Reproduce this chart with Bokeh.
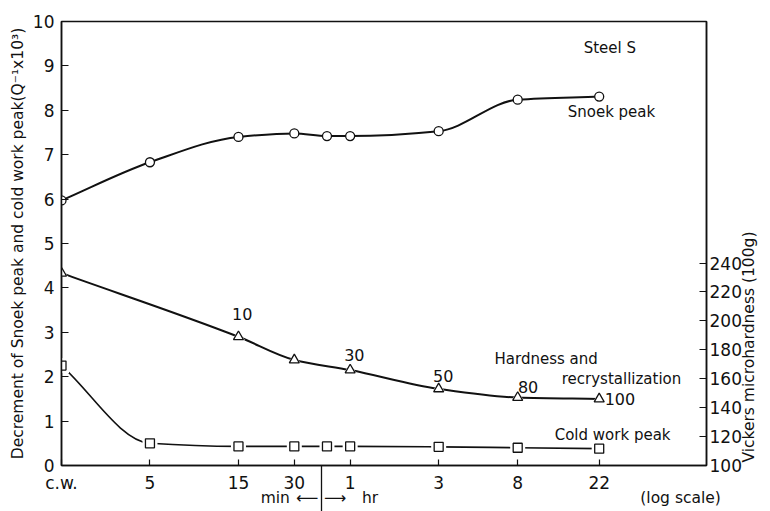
import numpy as np
from math import pi
from bokeh.plotting import figure
from bokeh.models import (Range1d, LinearAxis, LogAxis, FixedTicker, Label,
                          ColumnDataSource)
from bokeh.embed import file_html
from bokeh.resources import INLINE

# ---------------- data ----------------
CW = 1.668  # position used for the cold-worked state on the log time axis (min)
time_min = [CW, 5, 15, 30, 45, 60, 180, 480, 1320]
snoek_peak = [5.97, 6.83, 7.40, 7.48, 7.42, 7.42, 7.53, 8.24, 8.31]
cold_work_peak = [2.25, 0.50, 0.43, 0.43, 0.43, 0.43, 0.42, 0.40, 0.38]

hard_time_min = [CW, 15, 30, 60, 180, 480, 1320]
hardness_hv = [233, 189, 173, 166, 153, 147, 146]

recryst_pct = ["10", "30", "50", "80", "100"]

x_ticks = [CW, 5, 15, 30, 60, 180, 480, 1320]
x_tick_labels = ["c.w.", "5", "15", "30", "1", "3", "8", "22"]
left_ticks = list(range(0, 11))
right_ticks = [100, 120, 140, 160, 180, 200, 220, 240]

SPLIT_MIN = 41.8  # min | hr divider on the time axis
# secondary caption row under the time axis: (position in min, text)
caption_pos = [23.7, 35.2, 49.8, 76.8, 3625]
caption_txt = ["min", "\u27f5", "\u27f6", "hr", "(log scale)"]

FONT = "DejaVu Sans"
INK = "#111111"

p = figure(width=770, height=511, x_axis_type="log",
           x_range=Range1d(CW, 5000), y_range=Range1d(0, 10),
           output_backend="svg", toolbar_location=None,
           min_border_left=61, min_border_right=63,
           min_border_top=21, min_border_bottom=46)
p.extra_y_ranges = {"hv": Range1d(100, 407)}
p.grid.visible = False
p.outline_line_color = INK
p.outline_line_width = 1.5
p.background_fill_color = "white"
p.border_fill_color = "white"

# ---------- axes ----------
xa = p.xaxis[0]
xa.ticker = FixedTicker(ticks=x_ticks, minor_ticks=[SPLIT_MIN])
xa.major_label_overrides = {t: l for t, l in zip(x_ticks, x_tick_labels)}
xa.major_tick_in = 6
xa.major_tick_out = 0
xa.minor_tick_in = 0
xa.minor_tick_out = 46
xa.minor_tick_line_color = INK
xa.minor_tick_line_width = 1.3
xa.major_label_standoff = -39
xa.axis_line_width = 1.5

xa2 = LogAxis(ticker=FixedTicker(ticks=caption_pos),
              major_label_overrides={t: l for t, l in zip(caption_pos, caption_txt)})
xa2.minor_tick_line_color = None
xa2.major_tick_in = 0
xa2.major_tick_out = 0
xa2.major_label_standoff = -7
p.add_layout(xa2, "below")

ya = p.yaxis[0]
ya.ticker = FixedTicker(ticks=left_ticks)
ya.minor_tick_line_color = None
ya.major_tick_in = 7
ya.major_tick_out = 0
ya.major_label_standoff = 7
ya.axis_line_width = 1.5
ya.axis_label = "Decrement of Snoek peak and cold work peak(Q\u207b\u00b9x10\u00b3)"
ya.axis_label_standoff = 3

ra = LinearAxis(y_range_name="hv", ticker=FixedTicker(ticks=right_ticks))
ra.minor_tick_line_color = None
ra.major_tick_in = 7
ra.major_tick_out = 0
ra.major_label_standoff = 3
ra.axis_line_width = 1.5
p.add_layout(ra, "right")

RT_POS = 102.0  # start of the right-hand title on the hardness scale
ra2 = LinearAxis(y_range_name="hv", ticker=FixedTicker(ticks=[RT_POS]),
                 major_label_overrides={RT_POS: "Vickers microhardness (100g)"})
ra2.minor_tick_line_color = None
ra2.major_tick_in = 0
ra2.major_tick_out = 0
ra2.major_label_standoff = 5
ra2.major_label_orientation = pi / 2
p.add_layout(ra2, "right")

for ax in (xa, ya, ra, xa2, ra2):
    hidden = ax in (xa2, ra2)
    ax.axis_line_color = None if hidden else INK
    ax.major_tick_line_color = None if hidden else INK
    ax.major_tick_line_width = 1.2
    ax.major_label_text_font = FONT
    ax.major_label_text_font_size = "17px"
    ax.major_label_text_color = INK
    ax.axis_label_text_font = FONT
    ax.axis_label_text_font_size = "15.5px"
    ax.axis_label_text_font_style = "normal"
    ax.axis_label_text_color = INK
ra2.major_label_text_font_size = "15.5px"
xa2.major_label_text_font_size = "15.5px"


# ---------- smooth curves (monotone cubic through the points, as Bezier) ----------
def bezier_source(xs, ys):
    lx = np.log10(np.asarray(xs, dtype=float))
    y = np.asarray(ys, dtype=float)
    n = len(lx)
    h = np.diff(lx)
    d = np.diff(y) / h
    m = np.zeros(n)
    m[0], m[-1] = d[0], d[-1]
    for i in range(1, n - 1):
        if d[i - 1] * d[i] <= 0:
            m[i] = 0.0
        else:
            w1 = 2 * h[i] + h[i - 1]
            w2 = h[i] + 2 * h[i - 1]
            m[i] = (w1 + w2) / (w1 / d[i - 1] + w2 / d[i])
    src = dict(x0=[], y0=[], x1=[], y1=[], cx0=[], cy0=[], cx1=[], cy1=[])
    for i in range(n - 1):
        src["x0"].append(10 ** lx[i]); src["y0"].append(y[i])
        src["x1"].append(10 ** lx[i + 1]); src["y1"].append(y[i + 1])
        src["cx0"].append(10 ** (lx[i] + h[i] / 3)); src["cy0"].append(y[i] + m[i] * h[i] / 3)
        src["cx1"].append(10 ** (lx[i + 1] - h[i] / 3)); src["cy1"].append(y[i + 1] - m[i + 1] * h[i] / 3)
    return ColumnDataSource(src)


def draw_curve(xs, ys, width, y_range_name="default"):
    p.bezier(x0="x0", y0="y0", x1="x1", y1="y1", cx0="cx0", cy0="cy0",
             cx1="cx1", cy1="cy1", source=bezier_source(xs, ys),
             line_color=INK, line_width=width, y_range_name=y_range_name)


draw_curve(time_min, snoek_peak, 2.0)
draw_curve(time_min, cold_work_peak, 1.6)
draw_curve(hard_time_min, hardness_hv, 2.0, "hv")

# white halos to leave small gaps where the line meets a marker
p.scatter(time_min, cold_work_peak, marker="square", size=15,
          fill_color="white", line_color=None)
p.scatter(hard_time_min, hardness_hv, marker="triangle", size=13,
          fill_color="white", line_color=None, y_range_name="hv")

p.scatter(time_min, snoek_peak, marker="circle", size=9,
          fill_color="white", line_color=INK, line_width=1.3)
p.scatter(time_min, cold_work_peak, marker="square", size=9,
          fill_color="white", line_color=INK, line_width=1.3)
p.scatter(hard_time_min, hardness_hv, marker="triangle", size=10,
          fill_color="white", line_color=INK, line_width=1.3,
          y_range_name="hv")


# ---------- annotations inside the frame ----------
def lab(x, y, text, align="left", size="15px"):
    p.add_layout(Label(x=x, y=y, text=text, text_font=FONT,
                       text_font_size=size, text_color=INK,
                       text_align=align, text_baseline="middle"))


lab(1089, 9.40, "Steel  S")
lab(893, 7.97, "Snoek peak")
lab(360, 2.39, "Hardness and")
lab(829, 1.94, "recrystallization")
lab(760, 0.68, "Cold  work peak")

# recrystallization percentages next to the hardness points
pct_pos = [(15.7, 3.42, "center"), (63.2, 2.50, "center"),
           (190.5, 2.01, "center"), (546, 1.77, "center"),
           (1413, 1.50, "left")]
for (x, y, al), t in zip(pct_pos, recryst_pct):
    lab(x, y, t, align=al, size="16px")

open("out.html", "w").write(file_html(p, INLINE))
